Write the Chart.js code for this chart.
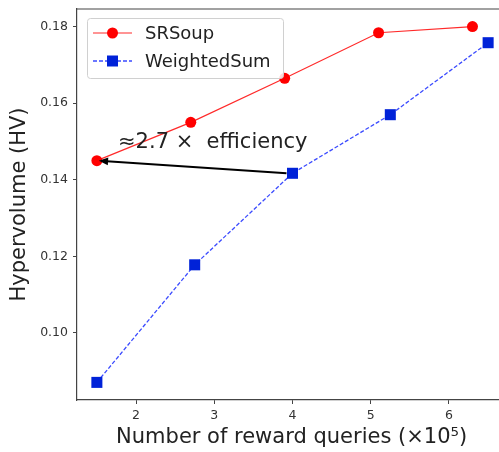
<!DOCTYPE html>
<html>
<head>
<meta charset="utf-8">
<script src="https://cdn.jsdelivr.net/npm/chart.js@4/dist/chart.umd.min.js"></script>
<style>
  html, body { margin: 0; padding: 0; background: #fff; overflow: hidden; }
  #wrap { width: 499px; height: 452px; overflow: hidden; }
</style>
</head>
<body>
<div id="wrap"><canvas id="hvChart" width="514" height="452"></canvas></div>
<script>
// data
const srsoupX = [1.5, 2.7, 3.9, 5.1, 6.3];
const srsoupHV = [0.145, 0.155, 0.1665, 0.1784, 0.18];
const weightedX = [1.5, 2.75, 4.0, 5.25, 6.5];
const weightedHV = [0.0871, 0.1178, 0.1417, 0.157, 0.1758];
const xTicks = [2, 3, 4, 5, 6];
const yTicks = [0.10, 0.12, 0.14, 0.16, 0.18];
const annotationText = '\u22482.7 \u00d7  efficiency';

const FONT = "'DejaVu Sans', sans-serif";

function toPoints(xs, ys) {
  return xs.map((x, i) => ({ x, y: ys[i] }));
}

// top frame line + in-plot legend + arrow annotation
const extras = {
  id: 'extras',
  afterDatasetsDraw(chart) {
    const { ctx, chartArea: a, scales } = chart;
    ctx.save();

    // frame
    ctx.strokeStyle = '#444';
    ctx.lineWidth = 1.2;
    ctx.beginPath();
    ctx.moveTo(a.left, a.top);
    ctx.lineTo(a.right, a.top);
    ctx.stroke();

    // arrow: from WeightedSum point 3 to SRSoup point 1
    const x0 = scales.x.getPixelForValue(weightedX[2]);
    const y0 = scales.y.getPixelForValue(weightedHV[2]);
    const x1 = scales.x.getPixelForValue(srsoupX[0]);
    const y1 = scales.y.getPixelForValue(srsoupHV[0]);
    const ang = Math.atan2(y1 - y0, x1 - x0);
    const hx = x1 - Math.cos(ang) * 2;
    const hy = y1 - Math.sin(ang) * 2;
    ctx.strokeStyle = '#000';
    ctx.lineWidth = 2;
    ctx.beginPath();
    ctx.moveTo(x0 - 6, y0);
    ctx.lineTo(hx - Math.cos(ang) * 8, hy - Math.sin(ang) * 8);
    ctx.stroke();
    ctx.fillStyle = '#000';
    ctx.beginPath();
    ctx.moveTo(hx, hy);
    ctx.lineTo(hx - Math.cos(ang - 0.4) * 10, hy - Math.sin(ang - 0.4) * 10);
    ctx.lineTo(hx - Math.cos(ang + 0.4) * 10, hy - Math.sin(ang + 0.4) * 10);
    ctx.closePath();
    ctx.fill();

    // annotation text
    ctx.font = '21px ' + FONT;
    ctx.fillStyle = '#222';
    ctx.textBaseline = 'alphabetic';
    ctx.textAlign = 'left';
    ctx.fillText(annotationText, 118, 148);

    // legend
    const lx = 87, ly = 18, lw = 196, lh = 60;
    ctx.fillStyle = 'rgba(255,255,255,0.85)';
    ctx.strokeStyle = '#d0d0d0';
    ctx.lineWidth = 1;
    ctx.beginPath();
    ctx.roundRect(lx + 0.5, ly + 0.5, lw, lh, 3);
    ctx.fill();
    ctx.stroke();
    chart.data.datasets.forEach((ds, i) => {
      const cy = 33 + i * 28;
      ctx.strokeStyle = ds.borderColor;
      ctx.lineWidth = ds.borderWidth;
      ctx.setLineDash(ds.borderDash || []);
      ctx.beginPath();
      ctx.moveTo(93, cy);
      ctx.lineTo(132, cy);
      ctx.stroke();
      ctx.setLineDash([]);
      ctx.fillStyle = ds.pointBackgroundColor;
      ctx.beginPath();
      if (ds.pointStyle === 'rect') {
        ctx.rect(107, cy - 5.5, 11, 11);
      } else {
        ctx.arc(112.5, cy, 5.5, 0, Math.PI * 2);
      }
      ctx.fill();
      ctx.font = '18px ' + FONT;
      ctx.fillStyle = '#222';
      ctx.textBaseline = 'middle';
      ctx.fillText(ds.label, 145, cy + 1);
    });

    ctx.restore();
  }
};

// pixels per x unit and where x=2 sits, as in the reference
const X_UNIT = 78.25;
const X2_PX = 136;

const chart = new Chart(document.getElementById('hvChart'), {
  type: 'line',
  data: {
    datasets: [
      {
        label: 'SRSoup',
        data: toPoints(srsoupX, srsoupHV),
        borderColor: '#ff2a2a',
        borderWidth: 1.2,
        pointStyle: 'circle',
        pointRadius: 5.5,
        pointBackgroundColor: '#ff0000',
        pointBorderColor: '#ff0000',
        pointBorderWidth: 0,
        tension: 0
      },
      {
        label: 'WeightedSum',
        data: toPoints(weightedX, weightedHV),
        borderColor: '#3b4bff',
        borderWidth: 1.3,
        borderDash: [4, 2],
        pointStyle: 'rect',
        pointRadius: 7.8,
        pointBackgroundColor: '#0022d8',
        pointBorderColor: '#0022d8',
        pointBorderWidth: 0,
        tension: 0
      }
    ]
  },
  options: {
    responsive: false,
    animation: false,
    clip: false,
    layout: { padding: { top: 9, right: 0, left: 0, bottom: 0 } },
    plugins: { legend: { display: false }, tooltip: { enabled: false } },
    scales: {
      x: {
        type: 'linear',
        min: 1.246,
        max: 6.7,
        afterBuildTicks: s => { s.ticks = xTicks.map(v => ({ value: v })); },
        afterFit: s => { s.height = 52; s.paddingLeft = 0; s.paddingRight = 0; },
        grid: { drawOnChartArea: false, drawTicks: true, tickLength: 4, color: '#444' },
        border: { color: '#444', width: 1.2 },
        ticks: { color: '#333', font: { family: FONT, size: 12.5 }, padding: 4, maxRotation: 0 },
        title: { display: true, text: 'Number of reward queries (\u00d710\u2075)', color: '#222', font: { family: FONT, size: 21 }, padding: { top: 4, bottom: 2 } }
      },
      y: {
        min: 0.0825,
        max: 0.1846,
        afterBuildTicks: s => { s.ticks = yTicks.map(v => ({ value: v })); },
        afterFit: s => { s.width = 77; s.paddingTop = 0; s.paddingBottom = 0; },
        grid: { drawOnChartArea: false, drawTicks: true, tickLength: 4, color: '#444' },
        border: { color: '#444', width: 1.2 },
        ticks: { color: '#333', font: { family: FONT, size: 12.5 }, padding: 5, callback: v => v.toFixed(2) },
        title: { display: true, text: 'Hypervolume (HV)', color: '#222', font: { family: FONT, size: 21 }, padding: { top: 7, bottom: 4 } }
      }
    }
  },
  plugins: [extras]
});

// the reference plot runs past the right edge of the picture (canvas is wider
// than the window); fit the x range to the area Chart.js actually laid out
const xs = chart.options.scales.x;
xs.min = 2 - (X2_PX - chart.chartArea.left) / X_UNIT;
xs.max = 2 + (chart.chartArea.right - X2_PX) / X_UNIT;
chart.update();
</script>
</body>
</html>
